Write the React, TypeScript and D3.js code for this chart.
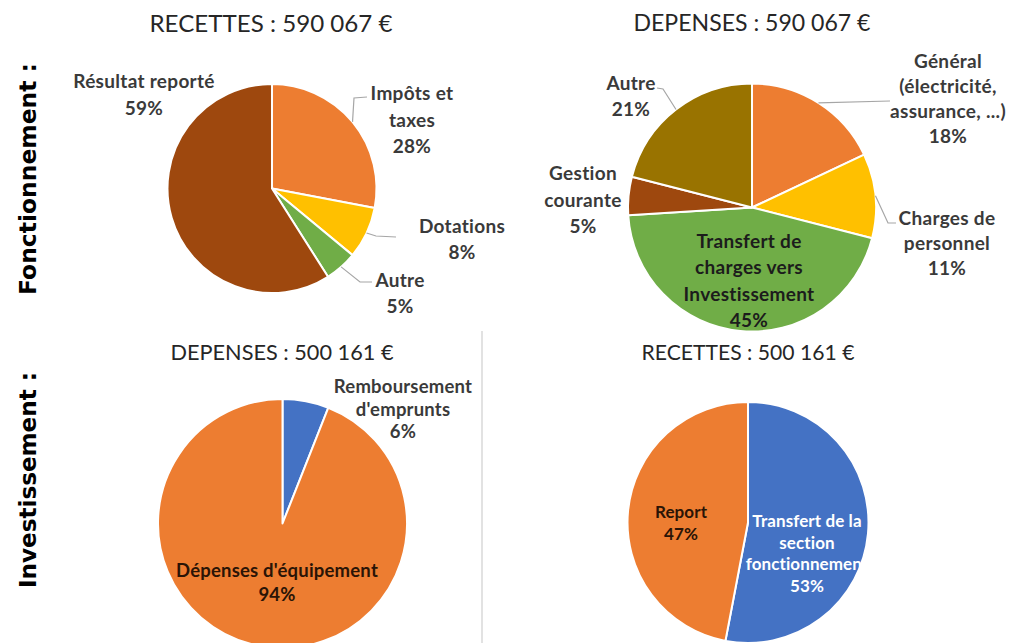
import React from "react";
import * as d3 from "d3";

// ---------- DATA ----------
const fonctRecTitle = "RECETTES : 590 067 €";
const fonctRecCategories = ["Impôts et\ntaxes", "Dotations", "Autre", "Résultat reporté"];
const fonctRecValues = [28, 8, 5, 59];

const fonctDepTitle = "DEPENSES : 590 067 €";
const fonctDepCategories = [
  "Général\n(électricité,\nassurance, ...)",
  "Charges de\npersonnel",
  "Transfert de\ncharges vers\nInvestissement",
  "Gestion\ncourante",
  "Autre",
];
const fonctDepValues = [18, 11, 45, 5, 21];

const investDepTitle = "DEPENSES : 500 161 €";
const investDepCategories = ["Remboursement\nd'emprunts", "Dépenses d'équipement"];
const investDepValues = [6, 94];

const investRecTitle = "RECETTES : 500 161 €";
const investRecCategories = ["Transfert de la\nsection\nfonctionnement", "Report"];
const investRecValues = [53, 47];

const sectionLabels = ["Fonctionnement :", "Investissement :"];

// ---------- STYLE / LAYOUT ----------
const C = {
  orange: "#ED7D31",
  yellow: "#FFC000",
  green: "#70AD47",
  brown: "#9E480E",
  olive: "#997300",
  blue: "#4472C4",
};
const LABEL = "#3a3a3a";
const FONT = "Lato, 'Open Sans', sans-serif";

type LabelLayout = {
  x: number;
  y: number;
  lh: number;
  color?: string;
  leader?: [number, number][];
  clipRight?: number;
};

type PieSpec = {
  title: string;
  titleX: number;
  titleY: number;
  titleSize: number;
  titleLen: number;
  cats: string[];
  values: number[];
  colors: string[];
  cx: number;
  cy: number;
  r: number;
  fontSize: number;
  spacing: number;
  labels: LabelLayout[];
};

const pies: PieSpec[] = [
  {
    title: fonctRecTitle,
    titleX: 271,
    titleY: 32,
    titleSize: 23,
    titleLen: 243,
    cats: fonctRecCategories,
    values: fonctRecValues,
    colors: [C.orange, C.yellow, C.green, C.brown],
    cx: 272,
    cy: 188.5,
    r: 104.5,
    fontSize: 19,
    spacing: 0.3,
    labels: [
      { x: 412, y: 100, lh: 26.5, leader: [[354, 98], [367, 97]] },
      { x: 462, y: 233, lh: 26, leader: [[376, 236], [396, 237]] },
      { x: 400, y: 287, lh: 26, leader: [[360, 282], [372, 282]] },
      { x: 144, y: 88, lh: 27 },
    ],
  },
  {
    title: fonctDepTitle,
    titleX: 752,
    titleY: 31,
    titleSize: 23,
    titleLen: 237,
    cats: fonctDepCategories,
    values: fonctDepValues,
    colors: [C.orange, C.yellow, C.green, C.brown, C.olive],
    cx: 752,
    cy: 207.5,
    r: 124,
    fontSize: 19,
    spacing: 0.3,
    labels: [
      { x: 948, y: 68, lh: 25, leader: [[890, 101]] },
      { x: 947, y: 225, lh: 25, leader: [[888, 223], [896, 223]] },
      { x: 749, y: 248, lh: 26.3, color: "#1c1c1c" },
      { x: 583, y: 180, lh: 26.5 },
      { x: 631, y: 90, lh: 26, leader: [[663, 89], [657, 88]] },
    ],
  },
  {
    title: investDepTitle,
    titleX: 282,
    titleY: 360,
    titleSize: 21,
    titleLen: 223,
    cats: investDepCategories,
    values: investDepValues,
    colors: [C.blue, C.orange],
    cx: 282.5,
    cy: 523.5,
    r: 124.5,
    fontSize: 18.5,
    spacing: 0.2,
    labels: [
      { x: 403, y: 393, lh: 22.5 },
      { x: 277, y: 577, lh: 24, color: "#2a1406" },
    ],
  },
  {
    title: investRecTitle,
    titleX: 748,
    titleY: 360,
    titleSize: 21,
    titleLen: 213,
    cats: investRecCategories,
    values: investRecValues,
    colors: [C.blue, C.orange],
    cx: 748,
    cy: 522.5,
    r: 120.5,
    fontSize: 17,
    spacing: 0.1,
    labels: [
      { x: 807, y: 527, lh: 21.7, color: "#ffffff", clipRight: 862 },
      { x: 681, y: 518, lh: 22, color: "#2a1406" },
    ],
  },
];

function Pie({ spec, idx }: { spec: PieSpec; idx: number }) {
  const pie = d3
    .pie<number>()
    .sort(null)
    .value((d) => d)
    .startAngle(0)
    .endAngle(2 * Math.PI);
  const arcs = pie(spec.values);
  const arc = d3.arc<d3.PieArcDatum<number>>().innerRadius(0).outerRadius(spec.r);
  const edge = d3.arc<d3.PieArcDatum<number>>().innerRadius(spec.r).outerRadius(spec.r);

  return (
    <g>
      <text
        x={spec.titleX}
        y={spec.titleY}
        textAnchor="middle"
        fontFamily={FONT}
        fontSize={spec.titleSize}
        fill="#262626"
        textLength={spec.titleLen}
        lengthAdjust="spacingAndGlyphs"
      >
        {spec.title}
      </text>
      <g transform={`translate(${spec.cx},${spec.cy})`}>
        {arcs.map((a, i) => (
          <path key={i} d={arc(a) || ""} fill={spec.colors[i]} stroke="#ffffff" strokeWidth={2} strokeLinejoin="round" />
        ))}
      </g>
      {arcs.map((a, i) => {
        const lay = spec.labels[i];
        if (!lay.leader) return null;
        const [ex, ey] = edge.centroid(a);
        const pts: [number, number][] = [[spec.cx + ex, spec.cy + ey], ...lay.leader];
        const line = d3.line()(pts) || "";
        return <path key={"l" + i} d={line} fill="none" stroke="#a6a6a6" strokeWidth={1.2} />;
      })}
      {spec.labels.map((lay, i) => {
        if (!lay.clipRight) return null;
        return (
          <clipPath id={`clip-${idx}-${i}`} key={"c" + i}>
            <rect x={0} y={0} width={lay.clipRight} height={643} />
          </clipPath>
        );
      })}
      {arcs.map((a, i) => {
        const lay = spec.labels[i];
        const lines = [...spec.cats[i].split("\n"), `${spec.values[i]}%`];
        return (
          <text
            key={"t" + i}
            textAnchor="middle"
            fontFamily={FONT}
            fontWeight="bold"
            fontSize={spec.fontSize}
            letterSpacing={spec.spacing}
            fill={lay.color || LABEL}
            clipPath={lay.clipRight ? `url(#clip-${idx}-${i})` : undefined}
          >
            {lines.map((ln, j) => (
              <tspan key={j} x={lay.x} y={lay.y + j * lay.lh}>
                {ln}
              </tspan>
            ))}
          </text>
        );
      })}
    </g>
  );
}

export default function App() {
  return (
    <svg
      width={1011}
      height={643}
      style={{ position: "absolute", left: 0, top: 0, background: "#ffffff" }}
    >
      <rect x={0} y={0} width={1011} height={643} fill="#ffffff" />
      <line x1={482} y1={331} x2={482} y2={643} stroke="#d9d9d9" strokeWidth={1.5} />
      {pies.map((p, i) => (
        <Pie key={i} spec={p} idx={i} />
      ))}
      <text
        transform="translate(36,179) rotate(-90)"
        textAnchor="middle"
        fontFamily="'DejaVu Sans', Verdana, sans-serif"
        fontWeight="bold"
        fontSize={23}
        fill="#000000"
        textLength={232}
        lengthAdjust="spacingAndGlyphs"
      >
        {sectionLabels[0]}
      </text>
      <text
        transform="translate(36,480) rotate(-90)"
        textAnchor="middle"
        fontFamily="'DejaVu Sans', Verdana, sans-serif"
        fontWeight="bold"
        fontSize={23}
        fill="#000000"
        textLength={216}
        lengthAdjust="spacingAndGlyphs"
      >
        {sectionLabels[1]}
      </text>
    </svg>
  );
}
